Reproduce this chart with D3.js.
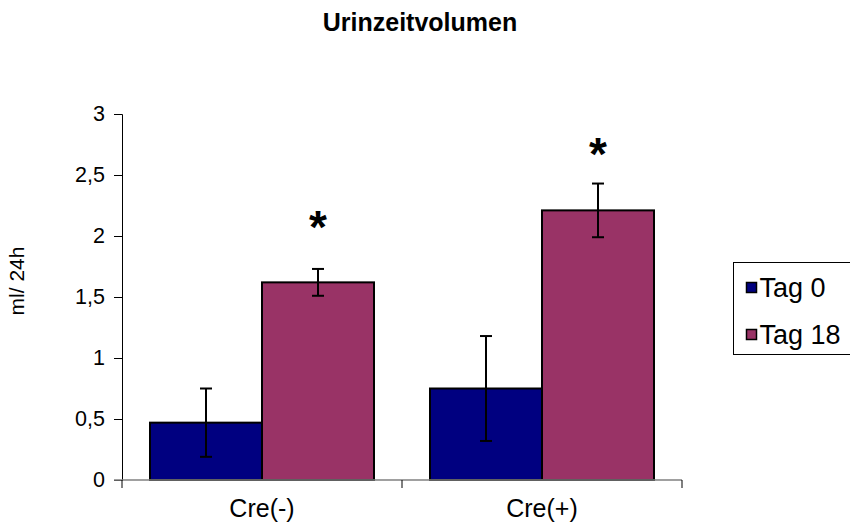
<!DOCTYPE html>
<html>
<head>
<meta charset="utf-8">
<script src="https://cdn.jsdelivr.net/npm/d3@7"></script>
<style>
  body { margin: 0; background: #fff; }
  svg { display: block; font-family: "Liberation Sans", Arial, sans-serif; }
</style>
</head>
<body>
<div></div>
<script>
var width = 850;
var height = 526;

var categories = ["Cre(-)", "Cre(+)"];
var seriesNames = ["Tag 0", "Tag 18"];
var tag0 = [0.47, 0.75];
var tag0Err = [0.28, 0.43];
var tag18 = [1.62, 2.21];
var tag18Err = [0.11, 0.22];
var starLevel = [2.12, 2.72]; // where the "*" sits, in ml/24h
var yTicks = [0, 0.5, 1, 1.5, 2, 2.5, 3];
var colors = ["#000080", "#993366"];

var margin = { left: 122, right: 168, top: 114, bottom: 46 };

var svg = d3.select("div")
    .append("svg")
    .attr("width", width)
    .attr("height", height);

var x = d3.scaleBand()
    .domain(categories)
    .range([margin.left, width - margin.right])
    .paddingInner(0)
    .paddingOuter(0);

var inner = d3.scaleBand()
    .domain(seriesNames)
    .range([28, x.bandwidth() - 28]);

var y = d3.scaleLinear()
    .domain([0, 3])
    .range([height - margin.bottom, margin.top]);

// title
svg.append("text")
    .attr("x", 420)
    .attr("y", 31)
    .attr("text-anchor", "middle")
    .style("font-weight", "bold")
    .style("font-size", "25px")
    .text("Urinzeitvolumen");

// y axis
var yAxis = svg.append("g")
    .attr("transform", "translate(" + margin.left + ",0)")
    .call(d3.axisLeft(y).tickValues(yTicks).tickSize(8).tickPadding(9)
        .tickFormat(function (d) { return String(d).replace(".", ","); }));
yAxis.attr("font-family", null).attr("font-size", null);
yAxis.select(".domain").attr("stroke", "#000").attr("stroke-width", 1);
yAxis.selectAll(".tick line").attr("stroke", "#000");
yAxis.selectAll("text").style("font-size", "21.5px").attr("fill", "#000");

svg.append("text")
    .attr("transform", "translate(24," + 281 + ") rotate(-90)")
    .attr("text-anchor", "middle")
    .style("font-size", "21px")
    .text("ml/ 24h");

// bars
var rows = categories.map(function (c, i) {
    return [
        { cat: c, s: seriesNames[0], v: tag0[i], e: tag0Err[i], color: colors[0] },
        { cat: c, s: seriesNames[1], v: tag18[i], e: tag18Err[i], color: colors[1] }
    ];
});
var flat = d3.merge(rows);

svg.selectAll("rect.bar")
    .data(flat)
    .enter()
    .append("rect")
    .attr("class", "bar")
    .attr("x", function (d) { return x(d.cat) + inner(d.s); })
    .attr("width", inner.bandwidth())
    .attr("y", function (d) { return y(d.v); })
    .attr("height", function (d) { return y(0) - y(d.v); })
    .attr("fill", function (d) { return d.color; })
    .attr("stroke", "#000")
    .attr("stroke-width", 2);

// x axis
var xAxisG = svg.append("g")
    .attr("transform", "translate(0," + y(0) + ")");
xAxisG.append("line")
    .attr("x1", margin.left - 8)
    .attr("x2", width - margin.right)
    .attr("stroke", "#808080")
    .attr("stroke-width", 1.5);
var xb = [margin.left].concat(categories.map(function (c) { return x(c) + x.bandwidth(); }));
xAxisG.selectAll("line.xt")
    .data(xb)
    .enter()
    .append("line")
    .attr("class", "xt")
    .attr("x1", function (d) { return d; })
    .attr("x2", function (d) { return d; })
    .attr("y1", 0)
    .attr("y2", 8)
    .attr("stroke", "#000");
xAxisG.selectAll("text")
    .data(categories)
    .enter()
    .append("text")
    .attr("x", function (d) { return x(d) + x.bandwidth() / 2; })
    .attr("y", 37)
    .attr("text-anchor", "middle")
    .style("font-size", "25px")
    .text(function (d) { return d; });

// error bars
var eb = svg.selectAll("g.err")
    .data(flat)
    .enter()
    .append("g")
    .attr("class", "err")
    .attr("stroke", "#000")
    .attr("stroke-width", 2);
function cx(d) { return x(d.cat) + inner(d.s) + inner.bandwidth() / 2; }
eb.append("line")
    .attr("x1", cx).attr("x2", cx)
    .attr("y1", function (d) { return y(d.v + d.e); })
    .attr("y2", function (d) { return y(d.v - d.e); });
eb.append("line")
    .attr("x1", function (d) { return cx(d) - 6; })
    .attr("x2", function (d) { return cx(d) + 6; })
    .attr("y1", function (d) { return y(d.v + d.e); })
    .attr("y2", function (d) { return y(d.v + d.e); });
eb.append("line")
    .attr("x1", function (d) { return cx(d) - 6; })
    .attr("x2", function (d) { return cx(d) + 6; })
    .attr("y1", function (d) { return y(d.v - d.e); })
    .attr("y2", function (d) { return y(d.v - d.e); });

// significance stars
svg.selectAll("text.star")
    .data(categories)
    .enter()
    .append("text")
    .attr("class", "star")
    .attr("x", function (c) { return x(c) + inner(seriesNames[1]) + inner.bandwidth() / 2; })
    .attr("y", function (c, i) { return y(starLevel[i]) + 22; })
    .attr("text-anchor", "middle")
    .style("font-size", "46px")
    .style("font-weight", "bold")
    .text("*");

// legend
var lg = svg.append("g").attr("transform", "translate(733.5,262.5)");
lg.append("rect")
    .attr("width", 130)
    .attr("height", 92)
    .attr("fill", "#fff")
    .attr("stroke", "#000");
var li = lg.selectAll("g.item")
    .data(seriesNames)
    .enter()
    .append("g")
    .attr("class", "item")
    .attr("transform", function (d, i) { return "translate(13," + (25 + i * 47) + ")"; });
li.append("rect")
    .attr("y", -5)
    .attr("width", 10)
    .attr("height", 10)
    .attr("fill", function (d, i) { return colors[i]; })
    .attr("stroke", "#000")
    .attr("stroke-width", 1.5);
li.append("text")
    .attr("x", 13)
    .attr("y", 9.5)
    .style("font-size", "27px")
    .text(function (d) { return d; });
</script>
</body>
</html>
